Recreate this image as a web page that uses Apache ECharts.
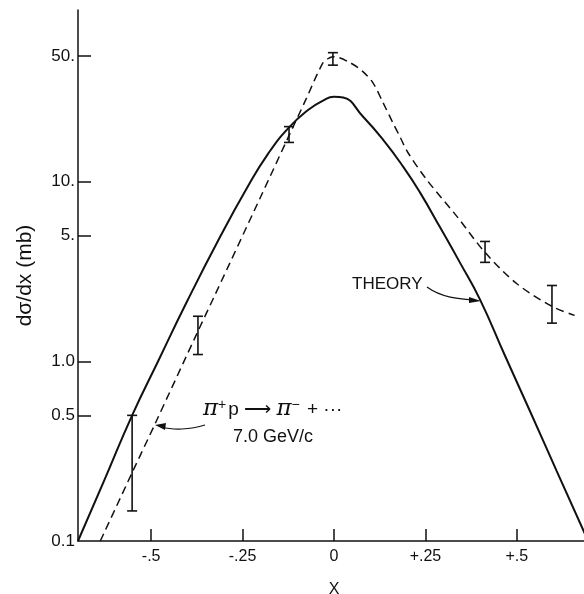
<!DOCTYPE html>
<html>
<head>
<meta charset="utf-8">
<script src="https://cdn.jsdelivr.net/npm/echarts@6/dist/echarts.min.js"></script>
<style>
  html, body { margin: 0; padding: 0; background: #fff; }
  #chart { width: 584px; height: 594px; }
</style>
</head>
<body>
<div id="chart"></div>
<script>
// theory curve (solid)
const theoryX = [-0.70, -0.63, -0.552, -0.48, -0.402, -0.311, -0.238, -0.18, -0.123, -0.07, -0.03, 0.0, 0.025, 0.079, 0.134, 0.189, 0.235, 0.29, 0.344, 0.399, 0.467, 0.536, 0.609, 0.695]
const theoryY = [0.1, 0.213, 0.5, 1.01, 2.15, 4.94, 9.2, 14.3, 20.0, 25.1, 28.2, 29.6, 29.3, 23.0, 17.1, 12.1, 8.7, 5.56, 3.55, 2.21, 1.08, 0.527, 0.245, 0.1]

// experimental fit (dashed)
const fitX = [-0.639, -0.552, -0.489, -0.374, -0.325, -0.202, -0.123, -0.079, -0.03, -0.012, 0.0, 0.044, 0.079, 0.107, 0.134, 0.161, 0.180, 0.202, 0.254, 0.336, 0.413, 0.50, 0.596, 0.658]
const fitY = [0.1, 0.24, 0.45, 1.44, 2.35, 8.1, 18.0, 28.0, 45.8, 48.8, 49.5, 45.8, 40.9, 35.3, 27.5, 21.2, 17.8, 14.5, 10.2, 6.4, 4.03, 2.7, 2.02, 1.80]

// data points with error bars
const errX = [-0.552, -0.372, -0.123, -0.003, 0.413, 0.596]
const errLow = [0.147, 1.09, 16.5, 44.4, 3.55, 1.63]
const errHigh = [0.5, 1.78, 20.2, 52.1, 4.64, 2.64]

// tick labels
const xTickValues = [-0.5, -0.25, 0, 0.25, 0.5]
const xTickLabels = ['-.5', '-.25', '0', '+.25', '+.5']
const yTickValues = [0.1, 0.5, 1, 5, 10, 50]
const yTickLabels = ['0.1', '0.5', '1.0', '5.', '10.', '50.']

const ink = '#111'
const font = 'Liberation Sans'

let chart = echarts.init(document.getElementById('chart'))

let option = {
  animation: false,
  grid: {
    left: 78,
    right: -6,
    top: 10,
    bottom: 53,
    outerBoundsMode: 'none'
  },
  xAxis: {
    type: 'value',
    min: -0.7,
    max: 0.7,
    name: 'X',
    nameLocation: 'middle',
    nameGap: 41,
    nameTextStyle: { color: ink, fontSize: 16, fontFamily: font },
    axisLine: { onZero: false, lineStyle: { color: ink, width: 1.5 } },
    axisTick: {
      inside: true,
      length: 12,
      customValues: xTickValues,
      lineStyle: { color: ink, width: 1.5 }
    },
    axisLabel: {
      customValues: xTickValues,
      margin: 8,
      color: ink,
      fontSize: 16,
      fontFamily: font,
      formatter: (v) => xTickLabels[xTickValues.indexOf(v)]
    },
    splitLine: { show: false }
  },
  yAxis: {
    type: 'log',
    min: 0.1,
    max: 90,
    name: 'dσ/dx (mb)',
    nameLocation: 'middle',
    nameGap: 42,
    nameTextStyle: { color: ink, fontSize: 21, fontFamily: font },
    axisLine: { onZero: false, lineStyle: { color: ink, width: 1.5 } },
    axisTick: {
      inside: true,
      length: 13,
      customValues: yTickValues.slice(1),
      lineStyle: { color: ink, width: 1.5 }
    },
    axisLabel: {
      customValues: yTickValues,
      margin: 3,
      color: ink,
      fontSize: 17,
      fontFamily: font,
      formatter: (v) => {
        let i = yTickValues.findIndex(t => Math.abs(t - v) < 1e-9)
        return i >= 0 ? yTickLabels[i] : ''
      }
    },
    splitLine: { show: false },
    minorTick: { show: false }
  },
  series: [
    {
      type: 'line',
      data: theoryX.map((x, i) => [x, theoryY[i]]),
      smooth: 0.5,
      showSymbol: false,
      clip: true,
      lineStyle: { color: ink, width: 2 }
    },
    {
      type: 'line',
      data: fitX.map((x, i) => [x, fitY[i]]),
      smooth: 0.3,
      showSymbol: false,
      clip: true,
      lineStyle: { color: ink, width: 1.5, type: [8, 5] }
    },
    {
      type: 'custom',
      data: errX.map((x, i) => [x, errLow[i], errHigh[i]]),
      renderItem: (params, api) => {
        let lo = api.coord([api.value(0), api.value(1)])
        let hi = api.coord([api.value(0), api.value(2)])
        let cap = 5
        let st = { stroke: ink, lineWidth: 1.6 }
        return {
          type: 'group',
          children: [
            { type: 'line', shape: { x1: lo[0], y1: lo[1], x2: hi[0], y2: hi[1] }, style: st },
            { type: 'line', shape: { x1: lo[0] - cap, y1: lo[1], x2: lo[0] + cap, y2: lo[1] }, style: st },
            { type: 'line', shape: { x1: hi[0] - cap, y1: hi[1], x2: hi[0] + cap, y2: hi[1] }, style: st }
          ]
        }
      }
    }
  ],
  graphic: [
    // THEORY label and arrow
    { type: 'text', left: 352, top: 276, style: { text: 'THEORY', fill: ink, fontSize: 17, fontFamily: font } },
    {
      type: 'bezierCurve',
      shape: { x1: 427, y1: 287, cpx1: 442, cpy1: 298, cpx2: 460, cpy2: 299, x2: 474, y2: 300 },
      style: { stroke: ink, lineWidth: 1.2, fill: null }
    },
    { type: 'polygon', shape: { points: [[481, 301], [469, 297], [469, 303]] }, style: { fill: ink } },
    // reaction label and arrow
    {
      type: 'text',
      left: 203,
      top: 398,
      style: {
        text: '{pi|π}{sup|+}{t|p ⟶ }{pi|π}{sup|−}{t| + ···}',
        fill: ink,
        fontFamily: font,
        rich: {
          pi: { fontSize: 23, fontFamily: 'DejaVu Serif', fontStyle: 'italic', fill: ink },
          sup: { fontSize: 14, fill: ink, verticalAlign: 'top', padding: [0, 2, 8, 0] },
          t: { fontSize: 19, fontFamily: font, fill: ink }
        }
      }
    },
    { type: 'text', left: 233, top: 428, style: { text: '7.0 GeV/c', fill: ink, fontSize: 18, fontFamily: font } },
    {
      type: 'bezierCurve',
      shape: { x1: 205, y1: 425, cpx1: 190, cpy1: 430, cpx2: 172, cpy2: 430, x2: 162, y2: 427 },
      style: { stroke: ink, lineWidth: 1.2, fill: null }
    },
    { type: 'polygon', shape: { points: [[155, 425], [166, 423], [165, 430]] }, style: { fill: ink } }
  ]
}

chart.setOption(option)
</script>
</body>
</html>
